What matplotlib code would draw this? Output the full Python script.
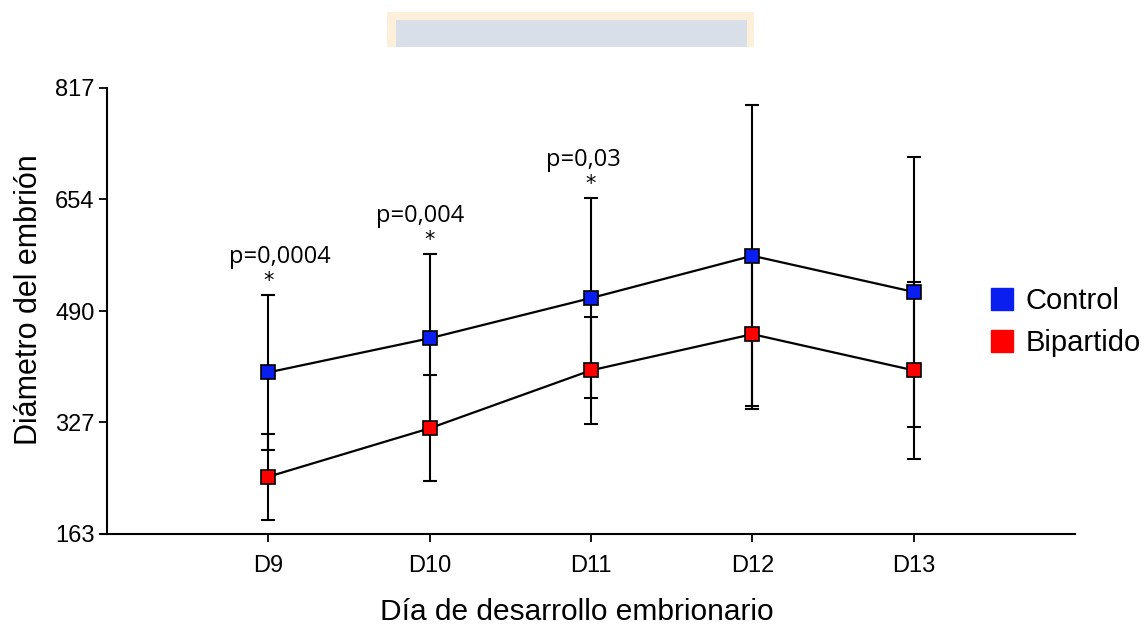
import numpy as np
import matplotlib
matplotlib.use("Agg")
from matplotlib import pyplot as plt
from matplotlib.patches import Rectangle
from matplotlib.lines import Line2D

plt.rcParams["font.family"] = ["Liberation Sans", "DejaVu Sans"]

days = ["D9", "D10", "D11", "D12", "D13"]
control_mean = [400, 450, 509, 571, 518]
control_err = [114, 123, 147, 221, 198]
bipart_mean = [247, 318, 403, 456, 403]
bipart_err = [63, 78, 78, 110, 130]
yticks = [163, 327, 490, 654, 817]
pvalues = ["p=0,0004", "p=0,004", "p=0,03"]
p_shift = [0.07, -0.06, -0.05]

x = np.arange(1, len(days) + 1)

fig = plt.figure(figsize=(11.44, 6.25), dpi=100)

# faint watermark box at the top
fig.patches.append(Rectangle((387 / 1144, 1 - 47 / 625), 367 / 1144, 35 / 625,
                             transform=fig.transFigure, facecolor="#fdf0da",
                             edgecolor="none", zorder=0))
fig.patches.append(Rectangle((396 / 1144, 1 - 47 / 625), 351 / 1144, 27 / 625,
                             transform=fig.transFigure, facecolor="#d9dfe8",
                             edgecolor="none", zorder=0))

ax = fig.add_axes([107 / 1144, 1 - 534 / 625, (1075 - 107) / 1144, (534 - 88) / 625])
ax.patch.set_alpha(0)

for mean, err, col in [(control_mean, control_err, "#0a1ef0"),
                       (bipart_mean, bipart_err, "#ff0000")]:
    ax.errorbar(x, mean, yerr=err, fmt="none", ecolor="black", elinewidth=1.5,
                capsize=4.8, capthick=1.5, zorder=2)
    ax.plot(x, mean, color="black", lw=1.6, zorder=3)
    ax.plot(x, mean, ls="none", marker="s", markersize=9.5, markerfacecolor=col,
            markeredgecolor="black", markeredgewidth=1.2, zorder=4)

# significance marks over first three days
for i, p in enumerate(pvalues):
    top = control_mean[i] + control_err[i]
    ax.text(x[i], top + 6, "*", ha="center", va="bottom", fontsize=15,
            family="DejaVu Sans")
    ax.text(x[i] + p_shift[i], top + 38, p, ha="center", va="bottom", fontsize=17,
            family="Open Sans")

ax.set_xlim(0, 6)
ax.set_ylim(163, 817)
ax.set_xticks(x)
ax.set_xticklabels(days)
ax.set_yticks(yticks)
ax.tick_params(axis="both", labelsize=17, width=1.3, length=6, direction="out")
ax.tick_params(axis="x", pad=9)
ax.tick_params(axis="y", pad=3)
for s in ["top", "right"]:
    ax.spines[s].set_visible(False)
for s in ["left", "bottom"]:
    ax.spines[s].set_linewidth(1.5)
ax.spines["bottom"].set_bounds(-0.04, 6)

ax.set_xlabel("Día de desarrollo embrionario", fontsize=21.5, labelpad=15)
ax.set_ylabel("Diámetro del embrión", fontsize=22, labelpad=8)
ax.xaxis.label.set_x(0.4855)
ax.yaxis.label.set_y(0.525)

handles = [Line2D([], [], ls="none", marker="s", markersize=15.5,
                  markerfacecolor="#0a1ef0", markeredgecolor="#0a1ef0"),
           Line2D([], [], ls="none", marker="s", markersize=15.5,
                  markerfacecolor="#ff0000", markeredgecolor="#ff0000")]
fig.legend(handles, ["Control", "Bipartido"], loc="center left",
           bbox_to_anchor=(986 / 1144, 1 - 322 / 625), frameon=False,
           fontsize=21, handletextpad=0.25, labelspacing=0.5, handlelength=1.1,
           borderaxespad=0, borderpad=0)

plt.savefig("out.png", dpi=100)
